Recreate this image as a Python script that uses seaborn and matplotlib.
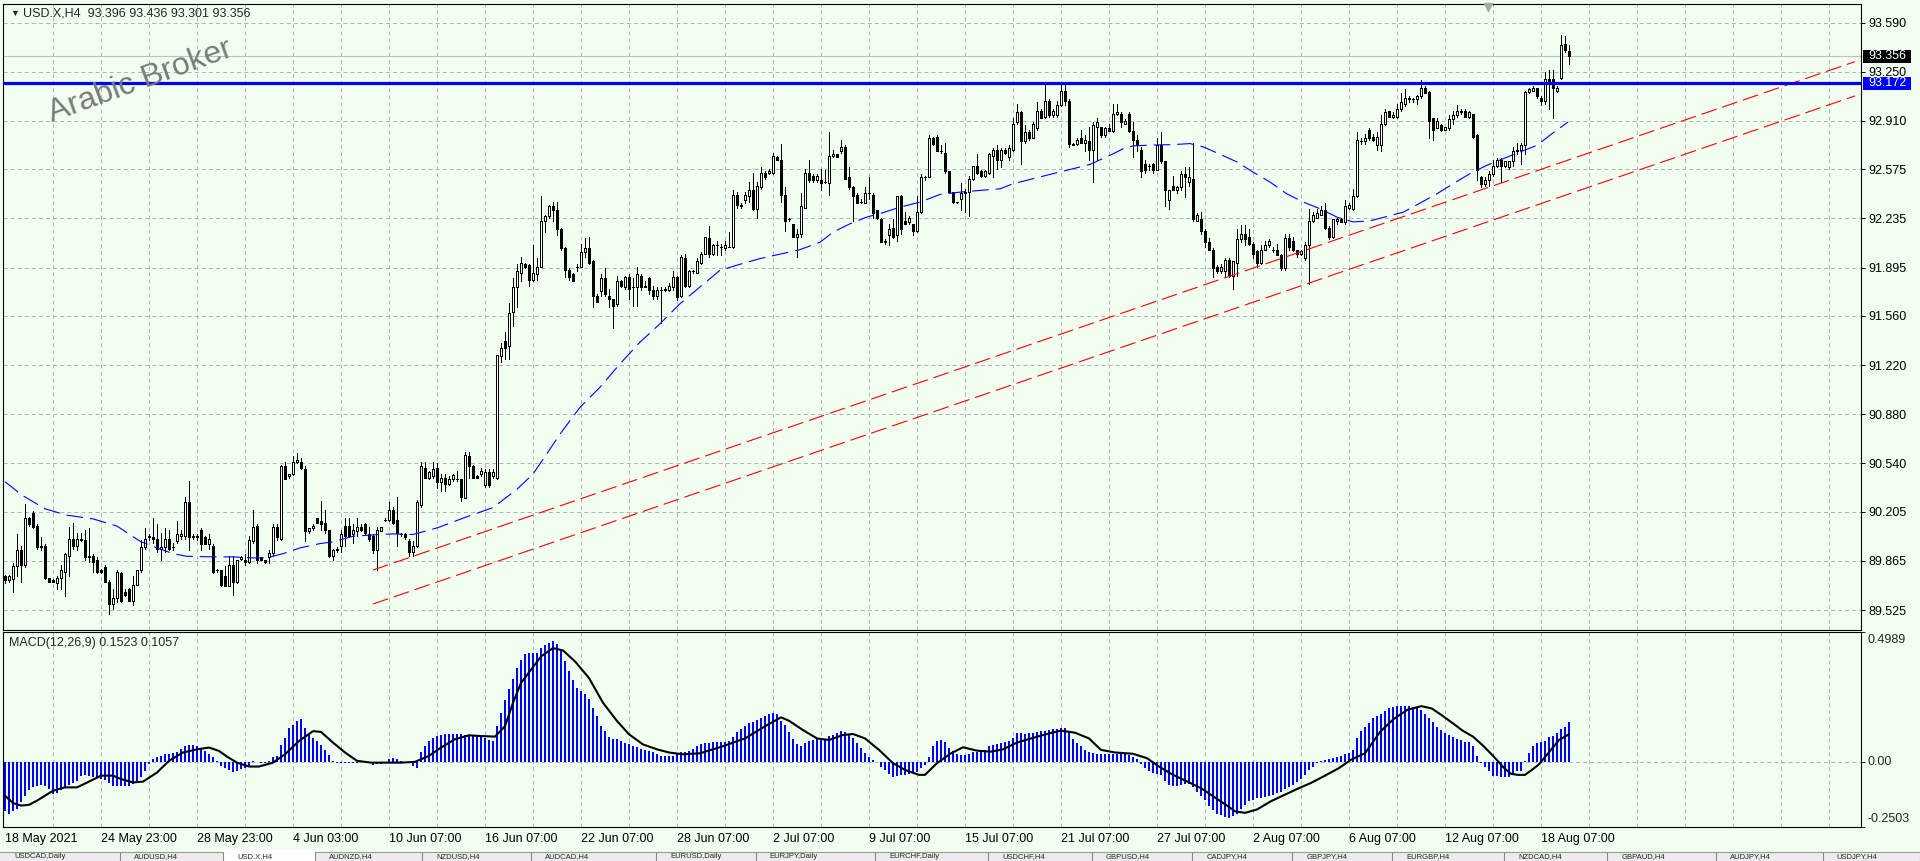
import numpy as np
import matplotlib
matplotlib.use("Agg")
import matplotlib.pyplot as plt
import matplotlib.transforms as mtrans
from matplotlib.patches import Rectangle
from matplotlib.lines import Line2D
import seaborn as sns

# ---- H4 candles, USD.X (one value per bar, left to right) ----
opens = [
    89.76, 89.73, 89.74, 89.83, 89.94, 89.84, 90.16, 90.20, 90.11, 89.96,
    89.97, 89.75, 89.73, 89.71, 89.75, 89.79, 89.90, 90.02, 89.97, 90.02,
    90.01, 89.90, 89.90, 89.87, 89.80, 89.82, 89.72, 89.57, 89.61, 89.78,
    89.65, 89.67, 89.59, 89.70, 89.80, 89.96, 90.03, 90.03, 90.02, 89.95,
    89.96, 90.02, 89.96, 90.00, 90.04, 90.04, 90.27, 90.03, 90.03, 90.08,
    90.03, 89.98, 89.97, 89.80, 89.80, 89.76, 89.69, 89.84, 89.72, 89.88,
    89.87, 89.86, 90.00, 90.11, 89.89, 89.87, 89.89, 89.92, 90.10, 90.02,
    90.52, 90.45, 90.47, 90.55, 90.55, 90.50, 90.07, 90.09, 90.16, 90.14,
    90.13, 90.08, 89.90, 89.94, 89.97, 90.11, 90.11, 90.05, 90.07, 90.10,
    90.12, 90.05, 90.04, 89.94, 90.07, 90.15, 90.15, 90.22, 90.15, 90.05,
    90.05, 90.00, 89.93, 89.97, 90.25, 90.51, 90.44, 90.45, 90.51, 90.41,
    90.44, 90.40, 90.43, 90.43, 90.43, 90.30, 90.59, 90.52, 90.45, 90.47,
    90.39, 90.48, 90.45, 90.44, 91.28, 91.39, 91.35, 91.59, 91.76, 91.86,
    91.92, 91.91, 91.81, 91.85, 91.90, 92.22, 92.25, 92.32, 92.29, 92.16,
    92.03, 91.88, 91.85, 91.90, 91.90, 92.00, 92.03, 91.94, 91.70, 91.73,
    91.82, 91.70, 91.68, 91.64, 91.80, 91.76, 91.83, 91.76, 91.76, 91.84,
    91.76, 91.82, 91.74, 91.70, 91.74, 91.74, 91.74, 91.76, 91.83, 91.70,
    91.96, 91.77, 91.87, 91.86, 91.93, 91.99, 92.10, 91.99, 92.05, 92.04,
    92.03, 92.04, 92.04, 92.40, 92.33, 92.36, 92.39, 92.43, 92.30, 92.45,
    92.55, 92.55, 92.55, 92.66, 92.64, 92.40, 92.23, 92.20, 92.11, 92.13,
    92.31, 92.55, 92.53, 92.50, 92.50, 92.49, 92.48, 92.67, 92.68, 92.70,
    92.73, 92.52, 92.45, 92.40, 92.35, 92.34, 92.41, 92.40, 92.29, 92.23,
    92.08, 92.12, 92.17, 92.12, 92.39, 92.22, 92.21, 92.20, 92.15, 92.28,
    92.52, 92.52, 92.79, 92.80, 92.70, 92.69, 92.56, 92.42, 92.35, 92.37,
    92.41, 92.42, 92.51, 92.60, 92.56, 92.53, 92.55, 92.67, 92.71, 92.64,
    92.71, 92.66, 92.71, 92.90, 92.97, 92.77, 92.83, 92.79, 92.86, 92.98,
    92.94, 93.05, 92.95, 92.95, 93.02, 93.12, 93.05, 92.75, 92.75, 92.79,
    92.76, 92.77, 92.71, 92.87, 92.87, 92.81, 92.86, 92.84, 92.96, 92.96,
    92.89, 92.96, 92.84, 92.78, 92.71, 92.61, 92.60, 92.61, 92.57, 92.74,
    92.63, 92.36, 92.46, 92.43, 92.45, 92.54, 92.49, 92.51, 92.22, 92.23,
    92.15, 92.07, 92.02, 91.90, 91.87, 91.87, 91.95, 91.84, 91.93, 92.09,
    92.13, 92.11, 92.06, 92.01, 91.93, 92.02, 92.05, 92.02, 92.02, 91.98,
    91.89, 92.10, 92.08, 92.02, 91.99, 91.96, 92.05, 92.22, 92.24, 92.26,
    92.29, 92.17, 92.11, 92.22, 92.23, 92.21, 92.31, 92.30, 92.39, 92.77,
    92.77, 92.85, 92.80, 92.74, 92.74, 92.89, 92.98, 92.94, 92.94, 92.99,
    93.03, 93.06, 93.06, 93.06, 93.08, 93.14, 93.11, 92.93, 92.86, 92.88,
    92.85, 92.86, 92.92, 92.95, 92.97, 92.98, 92.94, 92.96, 92.81, 92.52,
    92.47, 92.50, 92.54, 92.60, 92.64, 92.60, 92.59, 92.63, 92.70, 92.71,
    92.74, 93.11, 93.12, 93.14, 93.07, 93.05, 93.20, 93.20, 93.12, 93.21,
    93.44, 93.396,
]
highs = [
    89.77, 89.77, 89.85, 90.05, 89.97, 90.26, 90.17, 90.21, 90.12, 90.03,
    89.98, 89.75, 89.74, 89.76, 89.84, 89.92, 90.10, 90.13, 90.06, 90.06,
    90.08, 90.09, 89.91, 89.89, 89.81, 89.84, 89.73, 89.67, 89.80, 89.79,
    89.67, 89.68, 89.76, 89.80, 90.01, 90.09, 90.05, 90.16, 90.12, 90.06,
    90.09, 90.08, 89.99, 90.14, 90.08, 90.31, 90.42, 90.05, 90.05, 90.09,
    90.04, 90.05, 89.98, 89.81, 89.80, 89.83, 89.90, 89.90, 89.87, 89.90,
    89.91, 90.04, 90.22, 90.12, 89.89, 89.87, 89.94, 90.12, 90.12, 90.53,
    90.55, 90.47, 90.59, 90.61, 90.58, 90.52, 90.09, 90.12, 90.16, 90.28,
    90.22, 90.08, 89.95, 89.96, 90.08, 90.16, 90.16, 90.12, 90.16, 90.12,
    90.13, 90.10, 90.05, 90.10, 90.10, 90.16, 90.27, 90.24, 90.31, 90.06,
    90.06, 90.02, 90.00, 90.29, 90.55, 90.55, 90.49, 90.55, 90.54, 90.47,
    90.47, 90.45, 90.47, 90.49, 90.43, 90.62, 90.62, 90.53, 90.46, 90.51,
    90.50, 90.50, 90.50, 91.29, 91.37, 91.45, 91.65, 91.82, 91.92, 91.97,
    91.93, 91.92, 92.05, 91.96, 92.39, 92.26, 92.33, 92.35, 92.35, 92.17,
    92.04, 91.89, 91.86, 91.92, 92.06, 92.10, 92.11, 91.95, 91.71, 91.85,
    91.89, 91.75, 91.68, 91.84, 91.81, 91.84, 91.85, 91.82, 91.90, 91.85,
    91.80, 91.83, 91.77, 91.76, 91.76, 91.76, 91.79, 91.87, 91.84, 91.98,
    91.99, 91.88, 91.88, 91.96, 92.00, 92.11, 92.18, 92.06, 92.08, 92.06,
    92.08, 92.14, 92.43, 92.42, 92.34, 92.42, 92.49, 92.55, 92.49, 92.59,
    92.56, 92.58, 92.69, 92.67, 92.75, 92.45, 92.24, 92.20, 92.16, 92.41,
    92.58, 92.64, 92.54, 92.54, 92.58, 92.57, 92.83, 92.71, 92.68, 92.78,
    92.74, 92.59, 92.46, 92.41, 92.37, 92.45, 92.52, 92.41, 92.29, 92.24,
    92.09, 92.20, 92.23, 92.39, 92.40, 92.28, 92.25, 92.20, 92.39, 92.54,
    92.53, 92.81, 92.80, 92.81, 92.74, 92.76, 92.56, 92.42, 92.35, 92.48,
    92.44, 92.53, 92.60, 92.68, 92.57, 92.57, 92.69, 92.72, 92.74, 92.72,
    92.72, 92.74, 92.93, 93.03, 92.98, 92.88, 92.85, 92.90, 93.04, 92.99,
    93.17, 93.06, 92.99, 93.05, 93.17, 93.17, 93.06, 92.76, 92.79, 92.85,
    92.81, 92.87, 92.90, 92.93, 92.87, 92.87, 92.89, 93.03, 93.03, 92.97,
    92.92, 92.97, 92.90, 92.81, 92.73, 92.64, 92.61, 92.62, 92.79, 92.83,
    92.63, 92.43, 92.53, 92.46, 92.56, 92.59, 92.59, 92.76, 92.27, 92.28,
    92.16, 92.10, 92.03, 91.91, 91.92, 91.96, 91.96, 91.94, 92.16, 92.19,
    92.19, 92.16, 92.07, 92.02, 92.05, 92.08, 92.09, 92.04, 92.06, 91.99,
    92.13, 92.13, 92.11, 92.02, 92.02, 92.07, 92.30, 92.28, 92.30, 92.32,
    92.34, 92.18, 92.23, 92.24, 92.24, 92.36, 92.34, 92.44, 92.83, 92.79,
    92.82, 92.86, 92.82, 92.83, 92.95, 92.99, 92.98, 92.97, 93.03, 93.10,
    93.13, 93.08, 93.07, 93.09, 93.19, 93.15, 93.12, 92.93, 92.93, 92.89,
    92.87, 92.95, 92.98, 93.02, 92.99, 92.99, 92.98, 92.96, 92.82, 92.53,
    92.52, 92.56, 92.64, 92.65, 92.65, 92.63, 92.63, 92.73, 92.76, 92.76,
    93.12, 93.14, 93.15, 93.14, 93.08, 93.25, 93.26, 93.26, 93.15, 93.505,
    93.50, 93.436,
]
lows = [
    89.71, 89.72, 89.65, 89.76, 89.72, 89.82, 90.11, 90.09, 89.95, 89.94,
    89.74, 89.72, 89.72, 89.67, 89.67, 89.62, 89.76, 89.95, 89.94, 90.00,
    89.87, 89.86, 89.79, 89.78, 89.78, 89.72, 89.50, 89.53, 89.58, 89.58,
    89.62, 89.59, 89.56, 89.70, 89.79, 89.95, 90.01, 89.99, 89.93, 89.87,
    89.93, 89.94, 89.94, 89.99, 90.02, 90.02, 89.94, 90.02, 90.01, 89.94,
    89.98, 89.95, 89.78, 89.79, 89.69, 89.69, 89.69, 89.63, 89.71, 89.87,
    89.84, 89.85, 89.99, 89.85, 89.87, 89.85, 89.85, 89.90, 90.01, 90.01,
    90.43, 90.44, 90.46, 90.54, 90.50, 90.00, 90.06, 90.08, 90.13, 90.08,
    90.06, 89.89, 89.87, 89.93, 89.93, 89.97, 90.03, 89.99, 90.04, 90.07,
    90.05, 90.00, 89.92, 89.80, 90.07, 90.14, 90.14, 90.12, 89.97, 90.04,
    90.02, 89.90, 89.90, 89.96, 90.24, 90.44, 90.43, 90.44, 90.37, 90.35,
    90.35, 90.39, 90.42, 90.42, 90.28, 90.30, 90.44, 90.44, 90.44, 90.45,
    90.38, 90.38, 90.44, 90.43, 91.24, 91.26, 91.26, 91.49, 91.62, 91.80,
    91.89, 91.77, 91.80, 91.81, 91.90, 92.14, 92.24, 92.22, 92.12, 92.02,
    91.83, 91.81, 91.80, 91.87, 91.90, 91.97, 91.92, 91.62, 91.66, 91.70,
    91.70, 91.62, 91.48, 91.63, 91.76, 91.75, 91.68, 91.63, 91.63, 91.74,
    91.76, 91.71, 91.68, 91.68, 91.51, 91.73, 91.73, 91.74, 91.67, 91.69,
    91.76, 91.76, 91.86, 91.86, 91.92, 91.99, 91.97, 91.98, 91.98, 91.98,
    92.02, 92.04, 92.03, 92.31, 92.31, 92.34, 92.35, 92.29, 92.24, 92.44,
    92.51, 92.54, 92.54, 92.64, 92.35, 92.15, 92.22, 92.11, 91.97, 92.11,
    92.31, 92.49, 92.49, 92.49, 92.43, 92.48, 92.40, 92.66, 92.66, 92.69,
    92.51, 92.44, 92.22, 92.34, 92.34, 92.34, 92.37, 92.24, 92.23, 92.07,
    92.06, 92.05, 92.10, 92.08, 92.13, 92.20, 92.20, 92.12, 92.14, 92.27,
    92.50, 92.52, 92.74, 92.70, 92.69, 92.55, 92.41, 92.34, 92.34, 92.29,
    92.28, 92.25, 92.50, 92.54, 92.52, 92.52, 92.54, 92.52, 92.58, 92.59,
    92.68, 92.64, 92.70, 92.89, 92.61, 92.76, 92.78, 92.79, 92.85, 92.93,
    92.93, 92.94, 92.94, 92.94, 93.01, 93.02, 92.73, 92.74, 92.74, 92.76,
    92.70, 92.64, 92.49, 92.64, 92.80, 92.80, 92.84, 92.83, 92.95, 92.87,
    92.89, 92.83, 92.66, 92.70, 92.52, 92.55, 92.57, 92.55, 92.57, 92.62,
    92.32, 92.30, 92.43, 92.41, 92.43, 92.38, 92.46, 92.22, 92.22, 92.13,
    92.04, 92.02, 91.83, 91.86, 91.86, 91.84, 91.83, 91.75, 91.84, 92.07,
    92.05, 92.05, 91.96, 91.90, 91.92, 92.02, 92.04, 92.00, 91.98, 91.88,
    91.88, 92.02, 92.01, 91.97, 91.98, 91.95, 91.78, 92.21, 92.24, 92.26,
    92.16, 92.09, 92.10, 92.20, 92.21, 92.20, 92.30, 92.29, 92.38, 92.75,
    92.75, 92.78, 92.77, 92.71, 92.70, 92.88, 92.94, 92.93, 92.93, 92.98,
    93.01, 93.04, 93.04, 93.03, 93.07, 93.10, 92.79, 92.78, 92.86, 92.84,
    92.85, 92.85, 92.89, 92.94, 92.96, 92.94, 92.93, 92.79, 92.50, 92.45,
    92.46, 92.46, 92.53, 92.59, 92.49, 92.59, 92.58, 92.60, 92.68, 92.61,
    92.68, 93.10, 93.12, 93.07, 93.02, 93.03, 92.99, 92.93, 93.11, 93.20,
    93.39, 93.301,
]
closes = [
    89.73, 89.76, 89.83, 89.94, 89.84, 90.16, 90.12, 90.10, 89.96, 89.97,
    89.75, 89.72, 89.72, 89.75, 89.80, 89.91, 90.02, 89.97, 90.02, 90.01,
    89.89, 89.89, 89.86, 89.79, 89.79, 89.72, 89.57, 89.61, 89.79, 89.59,
    89.63, 89.59, 89.70, 89.80, 89.96, 90.02, 90.04, 90.02, 89.95, 89.96,
    90.02, 89.95, 89.96, 90.05, 90.05, 90.27, 90.03, 90.04, 90.04, 89.98,
    89.98, 90.02, 89.79, 89.80, 89.70, 89.69, 89.84, 89.72, 89.87, 89.89,
    89.86, 90.01, 90.10, 89.87, 89.87, 89.86, 89.92, 90.10, 90.03, 90.52,
    90.43, 90.47, 90.55, 90.56, 90.51, 90.07, 90.09, 90.11, 90.13, 90.12,
    90.08, 89.90, 89.94, 89.95, 90.05, 90.04, 90.04, 90.08, 90.10, 90.08,
    90.06, 90.02, 89.94, 90.08, 90.10, 90.15, 90.22, 90.13, 90.06, 90.05,
    90.03, 89.93, 89.97, 90.27, 90.52, 90.44, 90.48, 90.50, 90.41, 90.44,
    90.40, 90.43, 90.46, 90.43, 90.31, 90.60, 90.52, 90.44, 90.44, 90.49,
    90.48, 90.39, 90.48, 91.29, 91.34, 91.34, 91.58, 91.76, 91.87, 91.93,
    91.90, 91.81, 91.86, 91.90, 92.22, 92.25, 92.32, 92.29, 92.16, 92.03,
    91.88, 91.83, 91.80, 91.90, 92.00, 92.03, 91.93, 91.70, 91.66, 91.82,
    91.71, 91.68, 91.63, 91.80, 91.77, 91.83, 91.75, 91.76, 91.85, 91.76,
    91.77, 91.74, 91.70, 91.74, 91.74, 91.75, 91.77, 91.83, 91.69, 91.97,
    91.77, 91.87, 91.87, 91.94, 91.99, 92.11, 91.99, 92.05, 92.05, 92.04,
    92.05, 92.04, 92.40, 92.33, 92.32, 92.40, 92.43, 92.30, 92.46, 92.55,
    92.52, 92.56, 92.67, 92.64, 92.40, 92.22, 92.23, 92.11, 92.13, 92.32,
    92.55, 92.50, 92.50, 92.53, 92.48, 92.49, 92.67, 92.68, 92.66, 92.73,
    92.51, 92.45, 92.39, 92.34, 92.35, 92.41, 92.41, 92.27, 92.24, 92.07,
    92.07, 92.16, 92.11, 92.39, 92.16, 92.20, 92.24, 92.15, 92.28, 92.52,
    92.52, 92.79, 92.75, 92.70, 92.70, 92.56, 92.42, 92.35, 92.35, 92.41,
    92.42, 92.51, 92.60, 92.55, 92.53, 92.56, 92.68, 92.71, 92.64, 92.71,
    92.69, 92.72, 92.89, 92.97, 92.77, 92.83, 92.79, 92.89, 92.98, 92.93,
    93.05, 92.95, 92.98, 93.02, 93.12, 93.05, 92.75, 92.74, 92.78, 92.76,
    92.78, 92.71, 92.88, 92.90, 92.81, 92.86, 92.84, 92.96, 92.97, 92.90,
    92.91, 92.84, 92.78, 92.74, 92.56, 92.57, 92.60, 92.57, 92.74, 92.63,
    92.43, 92.43, 92.43, 92.45, 92.54, 92.52, 92.52, 92.23, 92.26, 92.15,
    92.07, 92.02, 91.89, 91.87, 91.90, 91.95, 91.84, 91.94, 92.09, 92.13,
    92.09, 92.06, 91.99, 91.93, 92.02, 92.05, 92.08, 92.02, 91.98, 91.89,
    92.10, 92.04, 92.02, 91.99, 92.01, 92.05, 92.22, 92.26, 92.27, 92.29,
    92.17, 92.11, 92.23, 92.23, 92.21, 92.32, 92.33, 92.39, 92.78, 92.77,
    92.79, 92.79, 92.78, 92.80, 92.89, 92.97, 92.94, 92.95, 92.99, 93.04,
    93.07, 93.07, 93.06, 93.08, 93.14, 93.10, 92.91, 92.85, 92.91, 92.85,
    92.87, 92.92, 92.95, 92.98, 92.98, 92.94, 92.97, 92.80, 92.57, 92.47,
    92.50, 92.54, 92.60, 92.64, 92.60, 92.63, 92.63, 92.70, 92.71, 92.74,
    93.11, 93.13, 93.14, 93.08, 93.05, 93.20, 93.18, 93.14, 93.14, 93.436,
    93.40, 93.356,
]

# blue dashed moving average, read at sample bars
ma_bars = [0, 4.2, 10, 15.4, 22, 28, 33.75, 38, 42, 45.4, 52, 57, 62, 65.4, 69.6,
           73.75, 78.75, 82, 87, 92, 97, 102, 108.2, 115.4, 122, 128, 132, 135.4,
           138.75, 143.75, 148.75, 153.75, 158.75, 163.75, 168.75, 173.75, 178.75,
           183.75, 188.75, 193.75, 198.5, 203.75, 207, 211.25, 215.4, 219.6, 223.75,
           228.75, 233.75, 238.75, 243.75, 248.75, 252, 257, 262, 267, 271.25,
           276.25, 279.6, 282, 287, 292, 296.25, 299.6, 303.75, 308, 312, 316.25,
           320.4, 324.6, 328.75, 333, 337, 341.25, 345.4, 349.6, 353.75, 358, 362,
           366.25, 370.4, 374.6, 378.75, 383, 387, 390.8]
ma_values = [90.413, 90.321, 90.226, 90.182, 90.156, 90.106, 90.001, 89.955, 89.916,
             89.897, 89.893, 89.893, 89.886, 89.886, 89.916, 89.955, 89.985, 89.997,
             90.036, 90.045, 90.052, 90.048, 90.095, 90.170, 90.234, 90.361, 90.466,
             90.604, 90.743, 90.928, 91.067, 91.229, 91.379, 91.506, 91.645, 91.761,
             91.876, 91.918, 91.957, 91.988, 92.017, 92.070, 92.140, 92.198, 92.244,
             92.276, 92.313, 92.348, 92.401, 92.417, 92.429, 92.440, 92.475, 92.510,
             92.545, 92.579, 92.609, 92.672, 92.718, 92.737, 92.743, 92.746, 92.753,
             92.730, 92.679, 92.626, 92.556, 92.487, 92.406, 92.348, 92.302, 92.244,
             92.211, 92.218, 92.248, 92.279, 92.341, 92.406, 92.475, 92.545, 92.602,
             92.649, 92.695, 92.741, 92.827, 92.903]

# two red trend lines (start bar/price, end bar/price)
trend_upper_bars = [92, 462.5]
trend_upper_prices = [89.802, 93.320]
trend_lower_bars = [92, 462.5]
trend_lower_prices = [89.567, 93.083]

resistance_level = 93.172
last_price = 93.356

# MACD(12,26,9) main values, one per bar
macd_main = [
    -0.19, -0.20, -0.19, -0.18, -0.155, -0.13, -0.107, -0.097, -0.092, -0.089,
    -0.092, -0.104, -0.122, -0.12, -0.109, -0.099, -0.089, -0.081, -0.073, -0.056,
    -0.051, -0.053, -0.059, -0.062, -0.066, -0.07, -0.081, -0.092, -0.092, -0.092,
    -0.092, -0.094, -0.087, -0.076, -0.059, -0.034, -0.009, 0.01, 0.017, 0.023,
    0.029, 0.029, 0.033, 0.039, 0.048, 0.061, 0.066, 0.064, 0.061, 0.048,
    0.042, 0.032, 0.02, 0.004, -0.015, -0.024, -0.032, -0.038, -0.034, -0.028,
    -0.023, -0.015, 0.002, 0.001, -0.003, -0.003, 0.004, 0.019, 0.023, 0.064,
    0.093, 0.131, 0.14, 0.157, 0.163, 0.131, 0.106, 0.093, 0.08, 0.064,
    0.046, 0.025, 0.004, -0.003, -0.005, -0.005, -0.005, -0.003, -0.003, -0.001,
    0.001, -0.005, -0.013, -0.01, -0.008, -0.005, 0.01, 0.013, 0.01, 0.005,
    -0.003, -0.005, -0.015, -0.022, 0.036, 0.061, 0.08, 0.093, 0.099, 0.104,
    0.106, 0.106, 0.106, 0.106, 0.106, 0.104, 0.104, 0.103, 0.102, 0.099,
    0.093, 0.084, 0.08, 0.137, 0.188, 0.239, 0.278, 0.318, 0.36, 0.392,
    0.415, 0.418, 0.418, 0.42, 0.437, 0.449, 0.458, 0.463, 0.453, 0.424,
    0.386, 0.348, 0.313, 0.284, 0.271, 0.262, 0.242, 0.207, 0.176, 0.137,
    0.118, 0.097, 0.089, 0.087, 0.08, 0.074, 0.067, 0.061, 0.056, 0.051,
    0.046, 0.042, 0.036, 0.029, 0.023, 0.023, 0.023, 0.023, 0.029, 0.036,
    0.036, 0.042, 0.05, 0.06, 0.068, 0.071, 0.074, 0.078, 0.078, 0.078,
    0.078, 0.081, 0.097, 0.113, 0.127, 0.136, 0.148, 0.153, 0.162, 0.168,
    0.176, 0.183, 0.187, 0.183, 0.158, 0.14, 0.116, 0.087, 0.067, 0.062,
    0.071, 0.079, 0.083, 0.087, 0.087, 0.087, 0.098, 0.104, 0.111, 0.118,
    0.115, 0.103, 0.09, 0.071, 0.055, 0.033, 0.019, 0.009, -0.002, -0.018,
    -0.033, -0.048, -0.059, -0.053, -0.05, -0.05, -0.046, -0.042, -0.038, -0.024,
    -0.011, 0.02, 0.061, 0.079, 0.084, 0.078, 0.055, 0.041, 0.032, 0.028,
    0.028, 0.032, 0.037, 0.039, 0.039, 0.047, 0.059, 0.066, 0.07, 0.073,
    0.075, 0.08, 0.09, 0.109, 0.109, 0.107, 0.109, 0.112, 0.116, 0.118,
    0.12, 0.123, 0.125, 0.125, 0.131, 0.13, 0.113, 0.089, 0.074, 0.059,
    0.046, 0.038, 0.033, 0.031, 0.031, 0.031, 0.031, 0.031, 0.031, 0.031,
    0.031, 0.028, 0.02, 0.01, -0.009, -0.023, -0.034, -0.043, -0.046, -0.05,
    -0.073, -0.088, -0.094, -0.092, -0.088, -0.084, -0.085, -0.097, -0.115, -0.132,
    -0.146, -0.168, -0.186, -0.2, -0.206, -0.213, -0.214, -0.209, -0.199, -0.181,
    -0.165, -0.151, -0.145, -0.14, -0.139, -0.135, -0.13, -0.126, -0.12, -0.115,
    -0.104, -0.097, -0.089, -0.076, -0.065, -0.05, -0.033, -0.018, -0.005, 0.005,
    0.008, 0.01, 0.014, 0.018, 0.023, 0.031, 0.033, 0.046, 0.09, 0.118,
    0.135, 0.151, 0.167, 0.177, 0.183, 0.195, 0.205, 0.21, 0.214, 0.214,
    0.214, 0.214, 0.211, 0.205, 0.199, 0.183, 0.167, 0.154, 0.135, 0.122,
    0.109, 0.103, 0.094, 0.088, 0.084, 0.078, 0.075, 0.059, 0.023, -0.005,
    -0.018, -0.037, -0.053, -0.056, -0.059, -0.059, -0.059, -0.046, -0.037, -0.037,
    0.002, 0.033, 0.059, 0.071, 0.078, 0.081, 0.094, 0.099, 0.109, 0.127,
    0.132, 0.1523,
]

# MACD signal line, read at sample bars
signal_bars = [0, 2, 4, 6, 8, 10, 12, 15, 18, 21, 24, 27, 29, 32, 34.5, 38, 41, 44.5,
               48, 51, 53.5, 55.5, 58, 61, 63.5, 67, 70, 73.5, 77, 79, 82, 85, 88, 91.5,
               96, 99, 102.5, 106, 109, 112.5, 116, 119, 122.5, 125, 127, 129, 131.5,
               134, 137, 139.5, 142.5, 146, 149.5, 153, 156, 159.5, 163, 166, 169.5,
               173.8, 179.3, 185, 190.5, 194, 196, 199.5, 203, 206, 209.5, 212, 215,
               218.5, 222, 225, 228.5, 230, 233, 236.5, 239.5, 243, 246.5, 249.5, 253,
               256.5, 261, 264, 267.5, 271, 274, 277.5, 282, 285.5, 288.5, 292, 295.5,
               299, 302, 305.5, 307.5, 310, 313, 316.5, 320, 323.5, 326.5, 330, 333.5,
               336.5, 340, 343.8, 347.2, 350.6, 354.1, 356.7, 359.2, 361.8, 364.4, 367,
               369.6, 372.2, 374.8, 376.5, 378.2, 380, 381.7, 383.4, 385.1, 386.8,
               388.5, 391]
signal_values = [-0.13, -0.158, -0.168, -0.165, -0.149, -0.13, -0.111, -0.098, -0.098,
                 -0.076, -0.053, -0.053, -0.066, -0.079, -0.076, -0.041, 0.004, 0.036,
                 0.048, 0.055, 0.042, 0.02, -0.003, -0.018, -0.018, -0.003, 0.029, 0.08,
                 0.118, 0.115, 0.074, 0.036, 0.004, -0.003, -0.003, -0.003, 0.0, 0.023,
                 0.055, 0.087, 0.102, 0.099, 0.097, 0.137, 0.227, 0.303, 0.354, 0.405,
                 0.437, 0.428, 0.386, 0.322, 0.227, 0.157, 0.106, 0.067, 0.048, 0.036,
                 0.029, 0.033, 0.059, 0.09, 0.141, 0.171, 0.158, 0.122, 0.09, 0.084,
                 0.103, 0.107, 0.09, 0.046, -0.005, -0.031, -0.05, -0.05, -0.005, 0.033,
                 0.056, 0.043, 0.039, 0.048, 0.074, 0.09, 0.109, 0.12, 0.112, 0.09,
                 0.046, 0.036, 0.031, 0.014, -0.018, -0.05, -0.075, -0.101, -0.132,
                 -0.168, -0.19, -0.196, -0.183, -0.151, -0.126, -0.101, -0.081, -0.053,
                 -0.024, 0.008, 0.033, 0.116, 0.165, 0.2, 0.214, 0.205, 0.179, 0.15,
                 0.12, 0.097, 0.061, 0.02, -0.024, -0.046, -0.05, -0.05, -0.031, -0.011,
                 0.02, 0.052, 0.084, 0.1057]

price_ticks = [93.590, 93.250, 92.910, 92.575, 92.235, 91.895, 91.560, 91.220,
               90.880, 90.540, 90.205, 89.865, 89.525]
price_labels = ["93.590", "93.250", "92.910", "92.575", "92.235", "91.895", "91.560",
                "91.220", "90.880", "90.540", "90.205", "89.865", "89.525"]
macd_ticks = [0.4989, 0.0, -0.2503]
macd_labels = ["0.4989", "0.00", "-0.2503"]
date_labels = ["18 May 2021", "24 May 23:00", "28 May 23:00", "4 Jun 03:00",
               "10 Jun 07:00", "16 Jun 07:00", "22 Jun 07:00", "28 Jun 07:00",
               "2 Jul 07:00", "9 Jul 07:00", "15 Jul 07:00", "21 Jul 07:00",
               "27 Jul 07:00", "2 Aug 07:00", "6 Aug 07:00", "12 Aug 07:00",
               "18 Aug 07:00"]
tab_labels = ["USDCAD,Daily", "AUDUSD,H4", "USD.X,H4", "AUDNZD,H4", "NZDUSD,H4",
              "AUDCAD,H4", "EURUSD,Daily", "EURJPY,Daily", "EURCHF,Daily", "USDCHF,H4",
              "GBPUSD,H4", "CADJPY,H4", "GBPJPY,H4", "EURGBP,H4", "NZDCAD,H4",
              "GBPAUD,H4", "AUDJPY,H4", "USDJPY,H4"]

# ------------------------------------------------------------------
sns.set_style("white")
plt.rcParams["font.family"] = ["Liberation Sans", "DejaVu Sans"]
plt.rcParams["lines.scale_dashes"] = False

W, H = 1920, 861
BG = "#f0fff0"
GRID = "#b4b4b4"
GRID_LS = (0, (2.9, 2.2))
LW1 = 0.6   # one device pixel


def fx(px):
    return px / W


def fy(py):
    return 1 - py / H


fig = plt.figure(figsize=(19.2, 8.61), dpi=100, facecolor=BG)
ax = fig.add_axes([fx(3), fy(630), (1861 - 3) / W, (630 - 4) / H])
axm = fig.add_axes([fx(3), fy(827), (1861 - 3) / W, (827 - 632) / H])

n = min(len(opens), len(highs), len(lows), len(closes))
o = np.array(opens[:n]); h = np.array(highs[:n])
l = np.array(lows[:n]); c = np.array(closes[:n])
xb = np.arange(n)
XMAX = 464

for a in (ax, axm):
    a.set_facecolor(BG)
    a.set_xlim(-0.5, XMAX)
    for s in a.spines.values():
        s.set_color("black")
        s.set_linewidth(0.8)
    for k in range(12, XMAX + 1, 12):
        a.axvline(k, color=GRID, lw=0.72, ls=GRID_LS, zorder=0.5)

# ---- price pane ----
ax.set_ylim(89.387, 93.719)
for p in price_ticks:
    ax.axhline(p, color=GRID, lw=0.72, ls=GRID_LS, zorder=0.5)
ax.axhline(last_price, color="#c0c0c0", lw=0.8, zorder=0.6)

ax.vlines(xb, l, h, color="black", lw=LW1, zorder=3, antialiased=False)
up = c >= o
ax.bar(xb[up], (c - o)[up], bottom=o[up], width=0.5, facecolor="white",
       edgecolor="black", lw=LW1, zorder=4, antialiased=False)
ax.bar(xb[~up], (c - o)[~up], bottom=o[~up], width=0.5, facecolor="black",
       edgecolor="black", lw=LW1, zorder=4, antialiased=False)

sns.lineplot(x=ma_bars, y=ma_values, ax=ax, color="#0000ff", lw=0.8,
             linestyle=(0, (12, 5)), estimator=None, sort=False, zorder=5)
ax.plot(trend_upper_bars, trend_upper_prices, color="#ff0000", lw=0.8,
        ls=(0, (11.5, 4.3)), zorder=5)
ax.plot(trend_lower_bars, trend_lower_prices, color="#ff0000", lw=0.8,
        ls=(0, (11.5, 4.3)), zorder=5)
ax.axhline(resistance_level, color="#0000ff", lw=2.3, zorder=6)

ax.yaxis.tick_right()
ax.set_yticks(price_ticks)
ax.set_yticklabels(price_labels)
ax.set_xticks([])
ax.tick_params(axis="y", direction="out", length=2.9, width=0.72, pad=2.2,
               labelsize=9, colors="black")
ax.set_xlabel("")
ax.set_ylabel("")

# shift marker at top
ax.plot([370.75], [1 - 2.5 / 626], marker="v", color="#a8a8a8", markersize=6,
        transform=mtrans.blended_transform_factory(ax.transData, ax.transAxes),
        clip_on=False, zorder=7)

# ---- MACD pane ----
m = np.array(macd_main)
axm.set_ylim(-0.2503, 0.4989)
axm.axhline(0, color=GRID, lw=0.72, ls=GRID_LS, zorder=0.5)
axm.bar(np.arange(len(m)), m, width=0.7, color="#0000ff", lw=0, zorder=2,
        antialiased=False)
sns.lineplot(x=signal_bars, y=signal_values, ax=axm, color="black", lw=1.5,
             estimator=None, sort=False, zorder=3)
axm.yaxis.tick_right()
axm.set_yticks(macd_ticks)
axm.set_yticklabels(["", "", ""])
axm.tick_params(axis="y", direction="out", length=2.9, width=0.72)
axm.set_xticks(list(range(0, 24 * len(date_labels), 24)))
axm.set_xticklabels(date_labels)
for t in axm.get_xticklabels():
    t.set_ha("left")
axm.tick_params(axis="x", direction="out", length=2.9, width=0.72, pad=1.5,
                labelsize=9, colors="black")
axm.set_xlabel("")
axm.set_ylabel("")
for lab, ypx, va in zip(macd_labels, [631, 762, 827], ["top", "center", "bottom"]):
    fig.text(fx(1867), fy(ypx + (3 if va == "top" else (-2 if va == "bottom" else 0))),
             lab, fontsize=9, va=va, ha="left")

# ---- texts ----
fig.text(fx(10), fy(13), "\u25bc", fontsize=6.5, va="center", ha="left")
fig.text(fx(23), fy(13), "USD.X,H4  93.396 93.436 93.301 93.356", fontsize=9,
         va="center", ha="left")
fig.text(fx(9), fy(643), "MACD(12,26,9) 0.1523 0.1057", fontsize=9,
         va="center", ha="left")
fig.text(fx(140), fy(81), "Arabic Broker", fontsize=23, color="#7a7a7a",
         rotation=20, ha="center", va="center", rotation_mode="anchor", zorder=20)


def price_y(p):
    return 4 + (93.719 - p) / (93.719 - 89.387) * 626


for val, face in [(last_price, "black"), (resistance_level, "#0000ff")]:
    yc = price_y(val)
    fig.add_artist(Rectangle((fx(1863), fy(yc + 6.5)), 48 / W, 13 / H,
                             facecolor=face, edgecolor="none",
                             transform=fig.transFigure, zorder=10))
    fig.text(fx(1868), fy(yc), f"{val:.3f}", color="white", fontsize=9,
             va="center", ha="left", zorder=11)

# ---- tab bar ----
tab_edges = [0, 119.6, 223.2, 314.7, 421.9, 531.3, 656.3, 755.8, 875.4, 988, 1092,
             1192.4, 1292.4, 1392, 1504, 1607.3, 1715.7, 1822.5, 1920]
fig.add_artist(Rectangle((0, 0), 1, 9 / H, facecolor="#ececec", edgecolor="none",
                         transform=fig.transFigure, zorder=12))
fig.add_artist(Line2D([0, 1], [fy(852), fy(852)], color="#9a9a9a", lw=0.8,
                      transform=fig.transFigure, zorder=13))
for i, name in enumerate(tab_labels):
    x0, x1 = tab_edges[i], tab_edges[i + 1]
    if name == "USD.X,H4":
        fig.add_artist(Rectangle((fx(x0), 0), (x1 - x0) / W, 11 / H,
                                 facecolor="white", edgecolor="none",
                                 transform=fig.transFigure, zorder=13))
    fig.add_artist(Line2D([fx(x1), fx(x1)], [0, fy(852)], color="#8a8a8a", lw=0.8,
                          transform=fig.transFigure, zorder=14))
    fig.text(fx(x0 + 14), fy(856.8), name, fontsize=5.5, va="center", ha="left",
             zorder=15)

fig.savefig("out.png", dpi=100, facecolor=BG)
